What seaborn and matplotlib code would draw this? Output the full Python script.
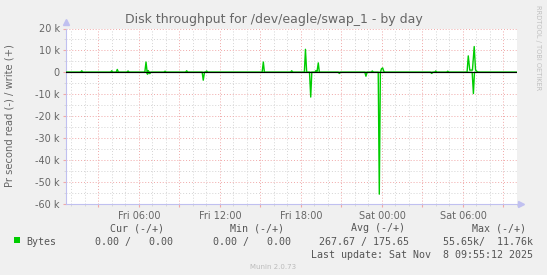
import matplotlib
matplotlib.use('Agg')
import matplotlib.pyplot as plt
import seaborn as sns
import pandas as pd
from matplotlib.patches import Rectangle
from matplotlib.ticker import MultipleLocator, FuncFormatter

# ---- data (hours since Fri 00:00, values in thousands of bytes/s) ----
write_hours = [
    0.58,
    1.67, 1.76, 1.84,
    3.89, 3.98, 4.06,
    4.31, 4.39, 4.48,
    5.10, 5.19, 5.27,
    6.43, 6.52, 6.60, 6.68, 6.77,
    7.85, 7.93, 8.02,
    9.45, 9.53, 9.62,
    10.93, 11.01, 11.10,
    15.12, 15.21, 15.29,
    17.23, 17.31, 17.40,
    18.25, 18.33, 18.42,
    19.03, 19.11, 19.19, 19.28, 19.36,
    23.20, 23.28, 23.37,
    23.88, 23.96, 24.05, 24.13, 24.21,
    27.90, 27.98, 28.07,
    28.79, 28.87, 28.96,
    30.30, 30.39, 30.50, 30.70, 30.83, 30.93, 31.05, 31.15,
    34.0,
]
write_k = [
    0,
    0, 0.7, 0,
    0, 0.7, 0,
    0, 1.3, 0,
    0, 0.6, 0,
    0, 4.7, 0.3, 0.8, 0,
    0, 0.5, 0,
    0, 0.7, 0,
    0, 0.6, 0,
    0, 4.7, 0,
    0, 0.7, 0,
    0, 10.5, 0,
    0, 0.8, 0.4, 4.3, 0,
    0, 0.6, 0,
    0, 1.6, 2.0, 0.5, 0,
    0, 0.6, 0,
    0, 0.5, 0,
    0, 7.5, 1.0, 1.0, 11.76, 1.0, 0.3, 0,
    0,
]
read_hours = [
    0.58,
    6.55, 6.63, 6.72, 6.80, 6.88,
    10.68, 10.76, 10.85,
    18.63, 18.72, 18.80,
    20.76, 20.84, 20.93,
    22.73, 22.81, 22.90,
    23.72, 23.80, 23.88,
    27.60, 27.68, 27.77,
    30.68, 30.77, 30.85,
    34.0,
]
read_k = [
    0,
    0, -0.9, 0, -0.6, 0,
    0, -3.6, 0,
    0, -11.3, 0,
    0, -0.5, 0,
    0, -1.8, 0,
    0, -55.65, 0,
    0, -0.5, 0,
    0, -9.7, 0,
    0,
]
tick_hours = [6, 12, 18, 24, 30]
tick_labels = ["Fri 06:00", "Fri 12:00", "Fri 18:00", "Sat 00:00", "Sat 06:00"]
legend_cols = ["Cur (-/+)", "Min (-/+)", "Avg (-/+)", "Max (-/+)"]
legend_vals = ["0.00 /   0.00", "0.00 /   0.00", "267.67 / 175.65", "55.65k/  11.76k"]

df = pd.DataFrame({
    "hours": write_hours + read_hours,
    "k": write_k + read_k,
    "dir": ["write"] * len(write_hours) + ["read"] * len(read_hours),
})

W, H = 547, 275
fig = plt.figure(figsize=(W / 100, H / 100), dpi=100, facecolor='#F0F0F0')
ax = fig.add_axes([66 / W, 1 - 203.7 / H, 451 / W, 175.2 / H])
ax.set_facecolor('white')

sns.lineplot(data=df, x="hours", y="k", units="dir", estimator=None, sort=False,
             color='#00CC00', lw=1.0, ax=ax, legend=False, zorder=3)
ax.axhline(0, color='black', lw=0.85, zorder=4)

ax.set_xlim(0.593, 34.0)
ax.set_ylim(-60, 20)
ax.set_xlabel("")
ax.set_ylabel("")

ax.xaxis.set_major_locator(MultipleLocator(3))
ax.xaxis.set_minor_locator(MultipleLocator(1))
lab = dict(zip(tick_hours, tick_labels))
ax.xaxis.set_major_formatter(FuncFormatter(lambda v, p: lab.get(int(round(v)), "") if abs(v - round(v)) < 1e-6 else ""))
ax.yaxis.set_major_locator(MultipleLocator(10))
ax.yaxis.set_minor_locator(MultipleLocator(5))
ax.yaxis.set_major_formatter(FuncFormatter(lambda v, p: "0" if abs(v) < 1e-9 else f"{int(round(v))} k"))

dot = (0, (1, 2))
ax.grid(which='major', color='#F0A8A8', linestyle=dot, lw=0.7, zorder=1)
ax.grid(which='minor', color='#D4D4D4', linestyle=dot, lw=0.7, zorder=1)
ax.set_axisbelow(True)

ax.tick_params(which='major', length=2.5, color='#F0A8A8', labelsize=7, labelcolor='#666666', pad=2)
ax.tick_params(which='minor', length=1.5, color='#D4D4D4')
ax.tick_params(axis='x', which='major', pad=2.5)

for s in ['top', 'right']:
    ax.spines[s].set_visible(False)
for s in ['left', 'bottom']:
    ax.spines[s].set_color('#C0C0F0')
    ax.spines[s].set_linewidth(0.8)
ax.plot([0], [1.035], marker='^', color='#C0C0F0', markersize=4, transform=ax.transAxes, clip_on=False)
ax.plot([1.008], [0], marker='>', color='#C0C0F0', markersize=4, transform=ax.transAxes, clip_on=False)

# texts
fig.text(273.5 / W, 1 - 20 / H, "Disk throughput for /dev/eagle/swap_1 - by day",
         ha='center', va='center', fontsize=9, color='#666666')
fig.text(10 / W, 1 - 116 / H, "Pr second read (-) / write (+)", rotation=90,
         ha='center', va='center', fontsize=7.2, color='#666666')
fig.text(538 / W, 1 - 5 / H, "RRDTOOL / TOBI OETIKER", rotation=270,
         ha='center', va='top', fontsize=4.8, color='#C0C0C0')
fig.text(273 / W, 1 - 267 / H, "Munin 2.0.73", ha='center', va='center',
         fontsize=5, color='#BBBBBB')

mono = dict(family='DejaVu Sans Mono', fontsize=7.2, color='#555555', va='center')
col_right = [164, 284, 405, 526]
val_right = [173, 291, 409, 533]
for c, x in zip(legend_cols, col_right):
    fig.text(x / W, 1 - 228.4 / H, c, ha='right', **mono)
for v, x in zip(legend_vals, val_right):
    fig.text(x / W, 1 - 242.3 / H, v, ha='right', **mono)
fig.text(26 / W, 1 - 242.3 / H, "Bytes", ha='left', **mono)
fig.text(533 / W, 1 - 254.5 / H, "Last update: Sat Nov  8 09:55:12 2025", ha='right', **mono)
fig.patches.append(Rectangle((14 / W, 1 - 243 / H), 6 / W, 6 / H, transform=fig.transFigure,
                             facecolor='#00CC00', edgecolor='none'))

fig.savefig('out.png', dpi=100, facecolor=fig.get_facecolor())
